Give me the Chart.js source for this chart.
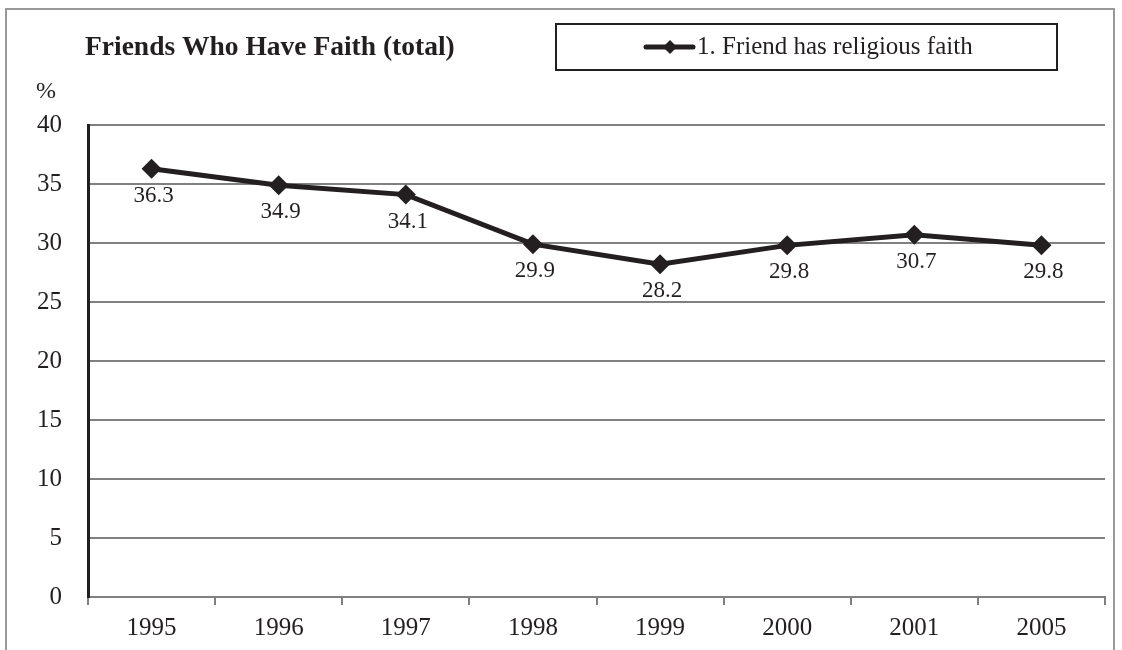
<!DOCTYPE html>
<html>
<head>
<meta charset="utf-8">
<script src="https://cdn.jsdelivr.net/npm/chart.js@4/dist/chart.umd.min.js"></script>
<style>
    html, body { margin: 0; padding: 0; background: #fff; }
    #wrap { position: relative; width: 1122px; height: 650px; overflow: hidden; }
    #frame { position: absolute; left: 5px; top: 8px; width: 1110px; height: 700px; border: 2px solid #999; box-sizing: border-box; pointer-events: none; }
    canvas { position: absolute; left: 0; top: 0; }
</style>
</head>
<body>
<div id="wrap">
    <canvas id="chart" width="1122" height="650"></canvas>
    <div id="frame"></div>
</div>
<script>
const years = ['1995', '1996', '1997', '1998', '1999', '2000', '2001', '2005'];
const faithValues = [36.3, 34.9, 34.1, 29.9, 28.2, 29.8, 30.7, 29.8];
const seriesName = '1. Friend has religious faith';
const chartTitle = 'Friends Who Have Faith (total)';

const SERIF = '"Liberation Serif", "DejaVu Serif", serif';
const INK = '#231f20';

// title, % unit, boxed legend and value labels drawn by hand
const decorations = {
    id: 'decorations',
    afterDatasetsDraw(chart) {
        const { ctx } = chart;
        ctx.save();

        ctx.fillStyle = INK;
        ctx.font = `bold 27.5px ${SERIF}`;
        ctx.textAlign = 'left';
        ctx.textBaseline = 'middle';
        ctx.fillText(chartTitle, 85, 48);

        ctx.font = `24px ${SERIF}`;
        ctx.fillText('%', 36, 92);

        // legend box
        ctx.strokeStyle = INK;
        ctx.lineWidth = 2;
        ctx.strokeRect(556, 24, 501, 46);
        ctx.lineWidth = 5;
        ctx.lineCap = 'round';
        ctx.beginPath();
        ctx.moveTo(646, 47);
        ctx.lineTo(693, 47);
        ctx.stroke();
        ctx.beginPath();
        ctx.moveTo(670, 40);
        ctx.lineTo(677, 47);
        ctx.lineTo(670, 54);
        ctx.lineTo(663, 47);
        ctx.closePath();
        ctx.fill();
        ctx.font = `25px ${SERIF}`;
        ctx.fillText(seriesName, 697, 47);

        // value labels under each point
        const meta = chart.getDatasetMeta(0);
        ctx.font = `23px ${SERIF}`;
        ctx.textAlign = 'center';
        meta.data.forEach((pt, i) => {
            ctx.fillText(faithValues[i].toFixed(1), pt.x + 2, pt.y + 27);
        });

        ctx.restore();
    },
};

new Chart(document.getElementById('chart'), {
    type: 'line',
    data: {
        labels: years,
        datasets: [{
            label: seriesName,
            data: faithValues,
            borderColor: INK,
            backgroundColor: INK,
            borderWidth: 5,
            pointStyle: 'rectRot',
            pointRadius: 10,
            pointBorderWidth: 0,
            pointBackgroundColor: INK,
            tension: 0,
        }],
    },
    options: {
        responsive: false,
        animation: false,
        layout: { padding: { left: 0, top: 125, right: 17, bottom: 0 } },
        plugins: {
            legend: { display: false },
            title: { display: false },
            tooltip: { enabled: false },
        },
        scales: {
            x: {
                offset: true,
                grid: {
                    display: true,
                    drawOnChartArea: false,
                    offset: true,
                    color: '#808080',
                    lineWidth: 2,
                    tickLength: 8,
                },
                border: { color: '#808080', width: 2 },
                ticks: { color: INK, font: { family: SERIF, size: 25 }, padding: 8 },
                afterFit: (scale) => { scale.height = 53; },
            },
            y: {
                min: 0,
                max: 40,
                ticks: { stepSize: 5, color: INK, font: { family: SERIF, size: 25 }, padding: 26 },
                grid: { color: '#808080', lineWidth: 2, drawTicks: false },
                border: { color: INK, width: 3 },
                afterFit: (scale) => { scale.width = 88; },
            },
        },
    },
    plugins: [decorations],
});
</script>
</body>
</html>
